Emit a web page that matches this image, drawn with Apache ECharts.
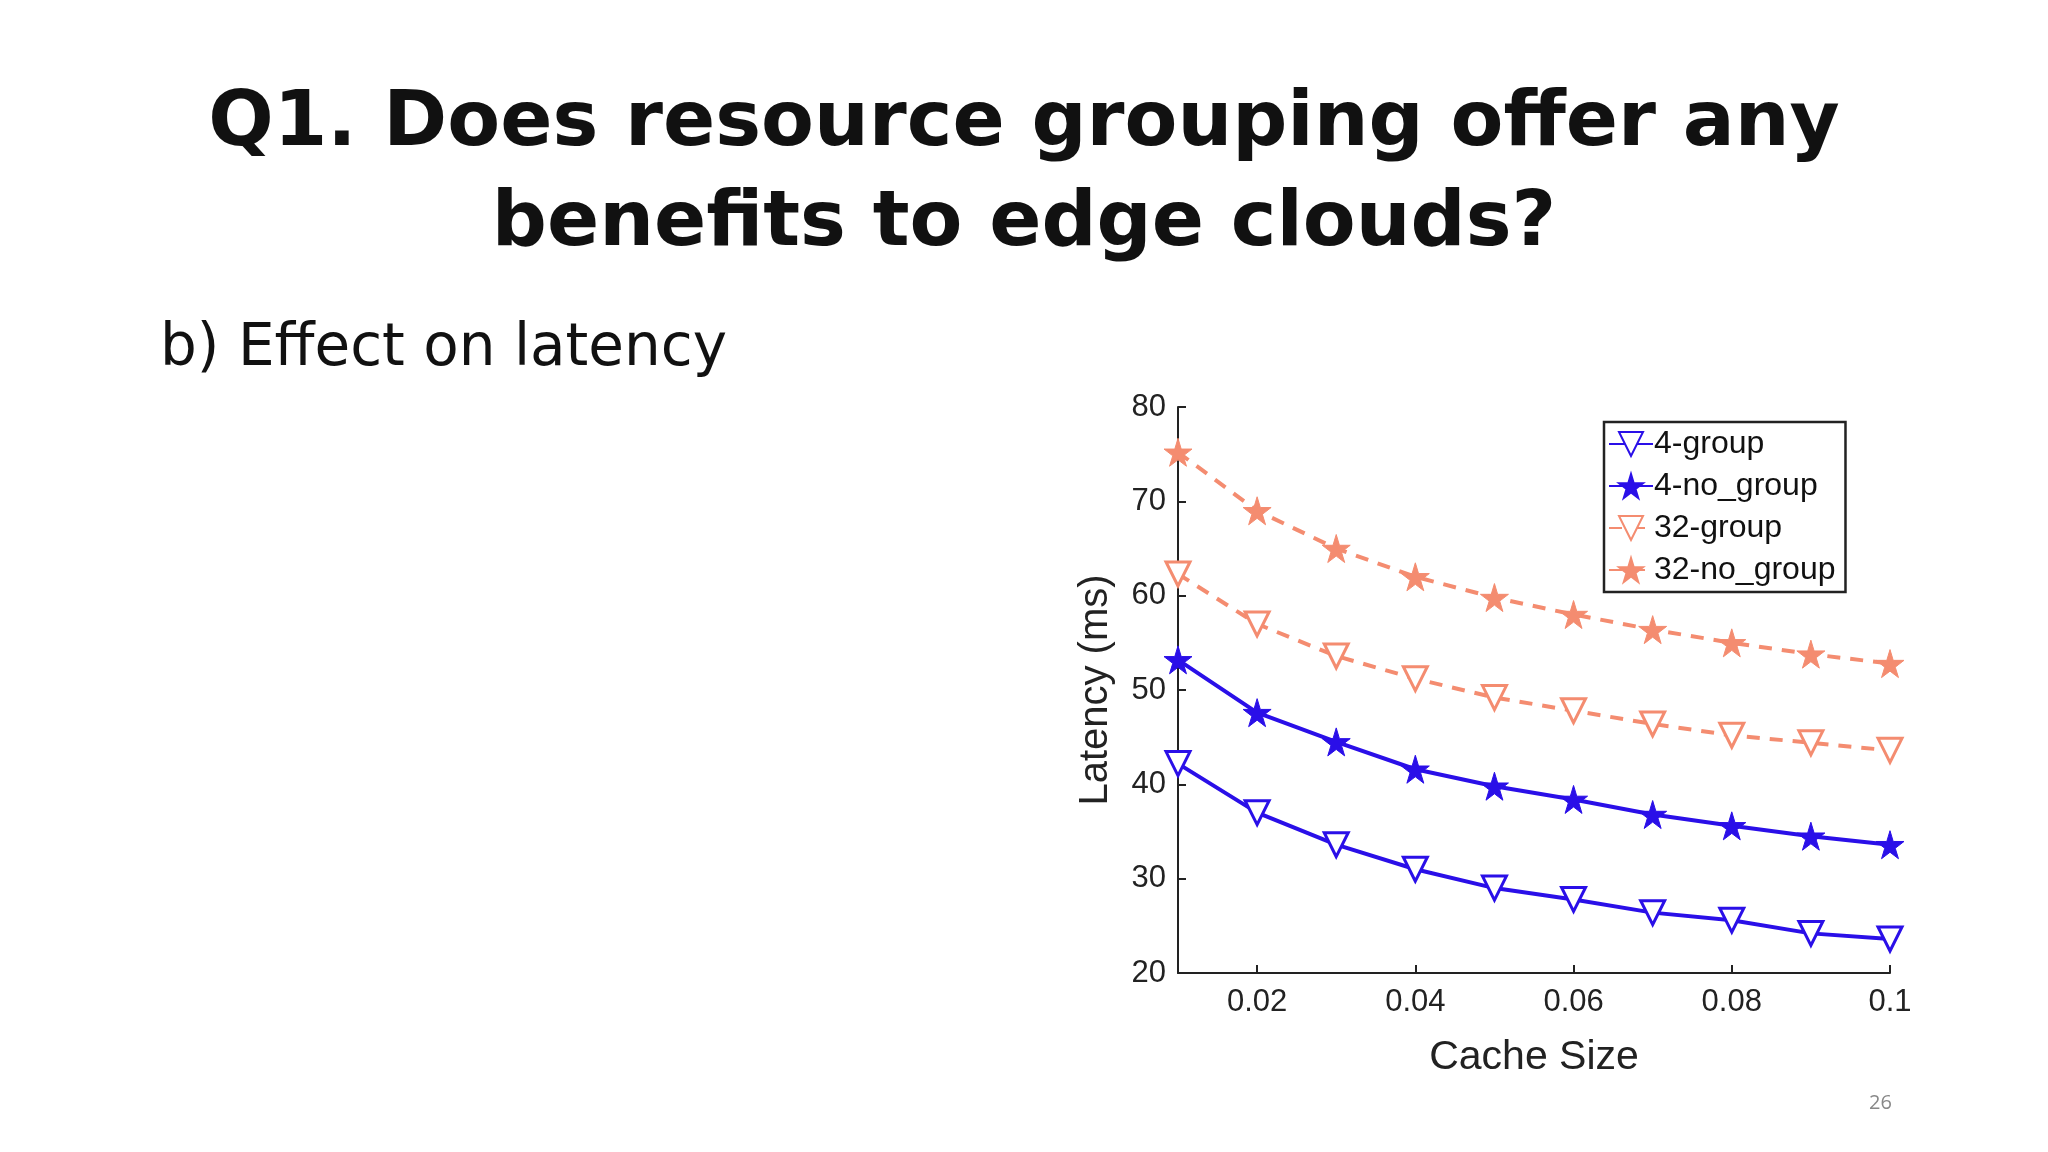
<!DOCTYPE html>
<html><head><meta charset="utf-8">
<script src="https://cdn.jsdelivr.net/npm/echarts@6/dist/echarts.min.js"></script>
<style>html,body{margin:0;padding:0;background:#fff}#c{width:2048px;height:1152px}</style>
</head><body><div id="c"></div>
<script>
const cacheSizes = [0.01,0.02,0.03,0.04,0.05,0.06,0.07,0.08,0.09,0.1];
const xTicks = [0.02,0.04,0.06,0.08,0.1];
const g4 = [42.2,37,33.6,31,29,27.8,26.4,25.6,24.2,23.6];
const ng4 = [53.2,47.6,44.5,41.6,39.8,38.4,36.8,35.6,34.5,33.6];
const g32 = [62.3,57,53.6,51.2,49.2,47.8,46.4,45.2,44.4,43.6];
const ng32 = [75.2,69,65,62,59.8,58,56.4,55,53.8,52.8];
const names = ['4-group','4-no_group','32-group','32-no_group'];
const BLUE='#2a0fe8', SALMON='#f48c70';
const star='path://M50,0 L61,35 L98,35 L68,57 L79,91 L50,70 L21,91 L32,57 L2,35 L39,35 Z';
function mk(name,vals,color,dashed,isStar){
  return {name,type:'line',data:cacheSizes.map((x,i)=>[x,vals[i]]),
    lineStyle:{color,width:4,type:dashed?[13,10]:'solid'},
    itemStyle:{color:isStar?color:'#fff',borderColor:color,borderWidth:isStar?1:3},
    symbol:isStar?star:'triangle',symbolRotate:isStar?0:180,symbolSize:isStar?28:24,
    color};
}
const chart=echarts.init(document.getElementById('c'));
chart.setOption({
  animation:false,
  title:[{text:'Q1. Does resource grouping offer any\nbenefits to edge clouds?',left:'center',top:70,
    textStyle:{fontFamily:'DejaVu Sans',fontWeight:'bold',fontSize:77,lineHeight:100,color:'#111'}},
    {text:'b) Effect on latency',left:155,top:316,textStyle:{fontFamily:'DejaVu Sans',fontWeight:'normal',fontSize:58,color:'#111'}},
    {text:'26',left:1864,top:1088,textStyle:{fontFamily:'Open Sans',fontWeight:'normal',fontSize:20,color:'#888'}}],
  grid:{left:1178,right:158,top:407,bottom:179},
  legend:{data:names,orient:'vertical',left:1604,top:422,
    padding:[6,10,6,4],itemGap:10,itemWidth:44,itemHeight:30,borderColor:'#222',borderWidth:2.5,
    backgroundColor:'#fff',textStyle:{fontFamily:'Liberation Sans',fontSize:32,color:'#111',padding:[0,0,0,-4]}},
  xAxis:{type:'value',min:0.01,max:0.1,name:'Cache Size',nameLocation:'middle',nameGap:64,
    nameTextStyle:{fontFamily:'Liberation Sans',fontSize:41,color:'#222'},
    axisLine:{lineStyle:{color:'#222',width:2}},splitLine:{show:false},
    axisTick:{inside:true,length:8,customValues:xTicks,lineStyle:{color:'#222',width:2}},
    axisLabel:{customValues:xTicks,fontFamily:'Liberation Sans',fontSize:31,color:'#222',margin:14,formatter:v=>String(+v.toFixed(2))}},
  yAxis:{type:'value',min:20,max:80,interval:10,name:'Latency (ms)',nameLocation:'middle',nameGap:62,
    nameTextStyle:{fontFamily:'Liberation Sans',fontSize:40,color:'#222'},
    axisLine:{show:true,lineStyle:{color:'#222',width:2}},splitLine:{show:false},
    axisTick:{show:true,inside:true,length:8,lineStyle:{color:'#222',width:2}},
    axisLabel:{fontFamily:'Liberation Sans',fontSize:31,color:'#222',margin:12}},
  series:[mk(names[0],g4,BLUE,false,false),mk(names[1],ng4,BLUE,false,true),
    mk(names[2],g32,SALMON,true,false),mk(names[3],ng32,SALMON,true,true)]
});
</script></body></html>
